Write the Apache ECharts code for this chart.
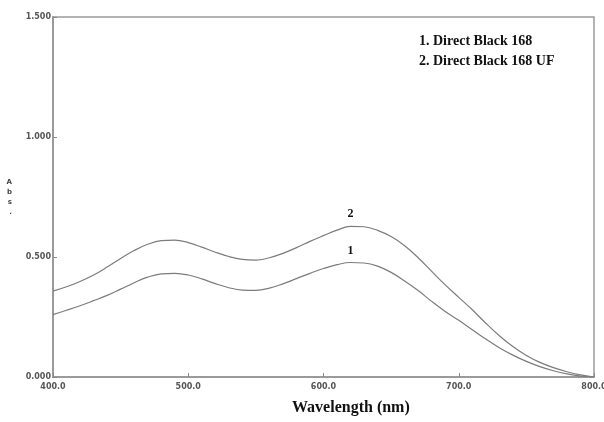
<!DOCTYPE html>
<html>
<head>
<meta charset="utf-8">
<script src="https://cdn.jsdelivr.net/npm/echarts@6/dist/echarts.min.js"></script>
<style>
  html, body { margin: 0; padding: 0; background: #fff; }
  #chart { width: 604px; height: 422px; }
</style>
</head>
<body>
<div id="chart"></div>
<script>
// wavelength steps (nm) and absorbance
let wavelengths = [400, 410, 420, 430, 440, 450, 460, 470, 480, 490,
                   500, 510, 520, 530, 540, 550, 560, 570, 580, 590,
                   600, 610, 620, 630, 640, 650, 660, 670, 680, 690,
                   700, 710, 720, 730, 740, 750, 760, 770, 780, 790, 800];

let absDB168 = [0.260, 0.278, 0.297, 0.318, 0.340, 0.366, 0.393, 0.416, 0.430, 0.432,
                0.425, 0.409, 0.389, 0.372, 0.362, 0.361, 0.370, 0.388, 0.410, 0.432,
                0.452, 0.468, 0.477, 0.475, 0.462, 0.436, 0.400, 0.360, 0.315, 0.273,
                0.236, 0.197, 0.158, 0.122, 0.091, 0.065, 0.043, 0.026, 0.013, 0.004, 0.000];

let absDB168UF = [0.358, 0.376, 0.398, 0.425, 0.458, 0.494, 0.527, 0.553, 0.568, 0.570,
                  0.560, 0.541, 0.520, 0.502, 0.490, 0.487, 0.497, 0.515, 0.539, 0.565,
                  0.589, 0.612, 0.628, 0.626, 0.611, 0.585, 0.547, 0.497, 0.440, 0.384,
                  0.332, 0.280, 0.224, 0.172, 0.127, 0.090, 0.061, 0.039, 0.022, 0.009, 0.000];

let legendLines = ['1. Direct Black 168', '2. Direct Black 168 UF'];

let chart = echarts.init(document.getElementById('chart'));

let pairs = (ys) => wavelengths.map((x, i) => [x, ys[i]]);

let tickFont = {
  color: '#555',
  fontSize: 8,
  fontWeight: 'bold',
  fontFamily: 'DejaVu Sans'
};

let curve = (name, ys, label) => ({
  type: 'line',
  name: name,
  data: pairs(ys),
  smooth: 0.4,
  showSymbol: false,
  lineStyle: { color: '#7c7c7c', width: 1.2 },
  markPoint: {
    symbol: 'circle',
    symbolSize: 0,
    data: [{ type: 'max' }],
    label: {
      show: true,
      position: 'top',
      distance: 6,
      formatter: label,
      color: '#111',
      fontSize: 12,
      fontWeight: 'bold',
      fontFamily: 'Liberation Serif'
    }
  }
});

chart.setOption({
  animation: false,
  grid: {
    left: 53, right: 10, top: 17, bottom: 45,
    outerBoundsMode: 'none',
    containLabel: false,
    show: true,
    borderColor: '#9a9a9a',
    borderWidth: 1.5
  },
  xAxis: {
    type: 'value',
    min: 400, max: 800, interval: 100,
    axisLine: { lineStyle: { color: '#9a9a9a', width: 2 } },
    axisTick: { inside: true, length: 4, lineStyle: { color: '#888' } },
    splitLine: { show: false },
    axisLabel: Object.assign({ margin: 6, formatter: (v) => v.toFixed(1) }, tickFont)
  },
  yAxis: {
    type: 'value',
    min: 0, max: 1.5, interval: 0.5,
    name: 'A\nb\ns\n.',
    nameLocation: 'middle',
    nameRotate: 0,
    nameGap: 41,
    nameTextStyle: { color: '#444', fontSize: 7, fontWeight: 'bold', lineHeight: 10, fontFamily: 'DejaVu Sans' },
    axisLine: { show: true, lineStyle: { color: '#9a9a9a', width: 2 } },
    axisTick: { show: true, inside: true, length: 4, lineStyle: { color: '#888' } },
    splitLine: { show: false },
    axisLabel: Object.assign({ margin: 2, formatter: (v) => v.toFixed(3) }, tickFont)
  },
  graphic: [
    {
      type: 'text',
      left: 419, top: 31,
      style: {
        text: legendLines.join('\n'),
        fill: '#111',
        font: 'bold 14px "Liberation Serif"',
        lineHeight: 20
      }
    },
    {
      type: 'text',
      left: 292, top: 400,
      style: {
        text: 'Wavelength (nm)',
        fill: '#111',
        font: 'bold 16px "Liberation Serif"'
      }
    }
  ],
  series: [
    curve('Direct Black 168', absDB168, '1'),
    curve('Direct Black 168 UF', absDB168UF, '2')
  ]
});
</script>
</body>
</html>
